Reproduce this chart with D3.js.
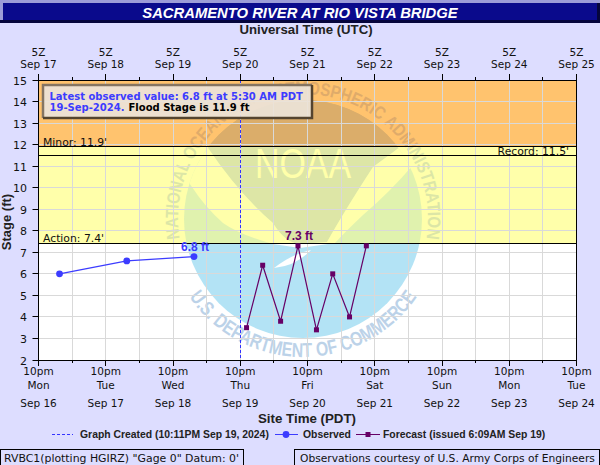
<!DOCTYPE html>
<html><head><meta charset="utf-8">
<script src="https://cdn.jsdelivr.net/npm/d3@7/dist/d3.min.js"></script>
<style>
html,body{margin:0;padding:0;background:#ddddff;overflow:hidden}
svg{display:block}
text{font-family:"DejaVu Sans",sans-serif}
</style></head><body><div id="c"></div>
<script>
const stageTicks = [2,3,4,5,6,7,8,9,10,11,12,13,14,15];
const tickTimes = ["2024-09-16T22:00","2024-09-17T22:00","2024-09-18T22:00","2024-09-19T22:00","2024-09-20T22:00","2024-09-21T22:00","2024-09-22T22:00","2024-09-23T22:00","2024-09-24T22:00"];
const topDates = ["Sep 17","Sep 18","Sep 19","Sep 20","Sep 21","Sep 22","Sep 23","Sep 24","Sep 25"];
const weekdays = ["Mon","Tue","Wed","Thu","Fri","Sat","Sun","Mon","Tue"];
const bottomDates = ["Sep 16","Sep 17","Sep 18","Sep 19","Sep 20","Sep 21","Sep 22","Sep 23","Sep 24"];
const obsTimes = ["2024-09-17T05:30","2024-09-18T05:30","2024-09-19T05:30"];
const obsValues = [6.0,6.6,6.8];
const fcstTimes = ["2024-09-20T00:15","2024-09-20T06:00","2024-09-20T12:24","2024-09-20T18:36","2024-09-21T01:12","2024-09-21T07:00","2024-09-21T13:00","2024-09-21T19:00"];
const fcstValues = [3.5,6.4,3.8,7.3,3.4,6.0,4.0,7.3];
const createdTime = "2024-09-19T22:11";
const thresholds = [{name:"Action: 7.4'",v:7.4},{name:"Record: 11.5'",v:11.5},{name:"Minor: 11.9'",v:11.9}];

const W=600,H=465,L=38.5,R=576.5,T=80,B=360;
const pd = s=>new Date(s+"Z");
const x = d3.scaleUtc().domain([pd(tickTimes[0]),pd(tickTimes[8])]).range([L,R]);
const y = d3.scaleLinear().domain([2,15]).range([B,T]);
const svg = d3.select("#c").append("svg").attr("width",W).attr("height",H);
const DAY=864e5;
const sy=v=>Math.floor(y(v))+.5;
const sx=t=>Math.floor(x(t))+.5;

// header
svg.append("rect").attr("width",W).attr("height",H).attr("fill","#ddddff");
svg.append("rect").attr("x",0).attr("y",0).attr("width",W).attr("height",3).attr("fill","#9c9cd8");
svg.append("rect").attr("x",0).attr("y",3).attr("width",3).attr("height",17).attr("fill","#9c9cd8");
svg.append("rect").attr("x",3).attr("y",3).attr("width",594).attr("height",17).attr("fill","#0a0a8c");
svg.append("rect").attr("x",0).attr("y",20).attr("width",W).attr("height",3).attr("fill","#05053c");
svg.append("rect").attr("x",597).attr("y",3).attr("width",3).attr("height",20).attr("fill","#05053c");
svg.append("text").attr("x",300).attr("y",17.5).attr("text-anchor","middle").attr("fill","#fff")
  .style("font-family","Liberation Sans").style("font-weight","bold").style("font-style","italic").style("font-size","14.8px")
  .text("SACRAMENTO RIVER AT RIO VISTA BRIDGE");
svg.append("text").attr("x",306).attr("y",34).attr("text-anchor","middle").attr("fill","#222")
  .style("font-family","Liberation Sans").style("font-weight","bold").style("font-size","13.2px").text("Universal Time (UTC)");

// bands
const bands=[[11.9,15,"#ffc36e"],[7.4,11.9,"#ffffaa"],[2,7.4,"#ffffff"]];
svg.selectAll(".band").data(bands).join("rect").attr("class","band")
  .attr("x",L).attr("width",R-L).attr("y",d=>y(d[1])).attr("height",d=>y(d[0])-y(d[1])).attr("fill",d=>d[2]);

// watermark, tinted band by band with hard-stop gradients
const defs=svg.append("defs");
const grad=(id,c)=>{
  const g=defs.append("linearGradient").attr("id",id).attr("gradientUnits","userSpaceOnUse").attr("x1",0).attr("x2",0).attr("y1",T).attr("y2",B);
  const a=(sy(11.9)-T)/(B-T), b=(sy(7.4)-T)/(B-T);
  [[0,c[0]],[a,c[0]],[a,c[1]],[b,c[1]],[b,c[2]],[1,c[2]]].forEach(s=>g.append("stop").attr("offset",s[0]).attr("stop-color",s[1]));
};
grad("gDisc",["#dbad6a","#e0f2ae","#b3e3f5"]);
grad("gDark",["#dbad6a","#dde6a6","#b3e3f5"]);
grad("gCut",["#ffc36e","#ffffaa","#ffffff"]);
grad("gTxt",["#dfab6a","#dce6a6","#bcd2e8"]);
defs.append("clipPath").attr("id","plot").append("rect").attr("x",L).attr("y",T).attr("width",R-L).attr("height",B-T);
const cx=303,cy=219,r=119;
defs.append("clipPath").attr("id","disc").append("circle").attr("cx",cx).attr("cy",cy).attr("r",r);
const lg=svg.append("g").attr("clip-path","url(#plot)");
const disc=lg.append("g").attr("clip-path","url(#disc)");
disc.append("rect").attr("x",cx-r).attr("y",cy-r).attr("width",2*r).attr("height",2*r).attr("fill","url(#gDisc)");
disc.append("path").attr("fill","url(#gDark)").attr("d","M190,90 L420,90 L412,140 L400,147 L373,167 Q345,210 327,242 L300,244 Q285,243 273,223 Q240,195 208,148 L198,138 Z");
disc.append("path").attr("fill","url(#gCut)").attr("d",
 "M198,138 L208,148 Q240,195 273,223 Q285,243 300,244 L327,242 Q345,210 373,167 L400,147 L412,140 L425,160 L413,165 Q390,192 363,215 Q345,232 335,243 L300,248 L273,244 Q240,235 223,223 Q205,207 192,187 L180,170 Z");
disc.append("path").attr("fill","url(#gCut)").attr("d","M274,268 Q296,266 311,250 Q292,254 274,268 Z");
const pt=(rad,deg)=>[cx+rad*Math.sin(deg*Math.PI/180),cy-rad*Math.cos(deg*Math.PI/180)];
const ra=125, a0=pt(ra,-104), a1=pt(ra,104);
defs.append("path").attr("id","ringTop").attr("d",`M${a0} A${ra} ${ra} 0 1 1 ${a1}`);
const rb=138, b0=pt(rb,-122), b1=pt(rb,122);
defs.append("path").attr("id","ringBot").attr("d",`M${b0} A${rb} ${rb} 0 0 0 ${b1}`);
lg.append("text").attr("fill","url(#gTxt)").style("font-family","Liberation Sans").style("font-weight","bold").style("font-size","18px")
  .append("textPath").attr("href","#ringTop").attr("startOffset","50%").attr("text-anchor","middle")
  .attr("textLength",432).attr("lengthAdjust","spacingAndGlyphs")
  .text("NATIONAL OCEANIC AND ATMOSPHERIC ADMINISTRATION");
lg.append("text").attr("fill","url(#gTxt)").style("font-family","Liberation Sans").style("font-weight","bold").style("font-size","20px")
  .append("textPath").attr("href","#ringBot").attr("startOffset","50%").attr("text-anchor","middle")
  .attr("textLength",268).attr("lengthAdjust","spacingAndGlyphs")
  .text("U.S. DEPARTMENT OF COMMERCE");
lg.append("text").attr("x",303).attr("y",178).attr("text-anchor","middle").attr("fill","url(#gCut)")
  .style("font-family","Liberation Sans").style("font-size","42px").attr("textLength",96).attr("lengthAdjust","spacingAndGlyphs").text("NOAA");

// grid
const grid=svg.append("g").attr("stroke","#d9d9d9").attr("stroke-width",1);
stageTicks.slice(1,-1).forEach(v=>grid.append("line").attr("x1",L).attr("x2",R).attr("y1",sy(v)).attr("y2",sy(v)));
const halfTicks=d3.range(1,16).map(i=>new Date(+x.domain()[0]+i*DAY/2));
halfTicks.forEach(t=>grid.append("line").attr("x1",sx(t)).attr("x2",sx(t)).attr("y1",T).attr("y2",B));

// thresholds
const thrLine=svg.append("g").attr("stroke","#000").attr("stroke-width",1.2);
thresholds.forEach(d=>thrLine.append("line").attr("x1",L).attr("x2",R).attr("y1",sy(d.v)).attr("y2",sy(d.v)));
const small=(s,xx,yy,a)=>svg.append("text").attr("x",xx).attr("y",yy).attr("text-anchor",a||"start").attr("fill","#111").style("font-size","10.8px").text(s);
small(thresholds[2].name,43,145.5);
small(thresholds[1].name,569,154.5,"end");
small(thresholds[0].name,43,242);

// created line
const cxx=sx(pd(createdTime));
svg.append("line").attr("x1",cxx).attr("x2",cxx).attr("y1",T).attr("y2",B)
  .attr("stroke","#3333ff").attr("stroke-width",1).attr("stroke-dasharray","3,2");

// frame
svg.append("rect").attr("x",L).attr("y",T+.5).attr("width",R-L).attr("height",B-T).attr("fill","none").attr("stroke","#000");

// axes
const majors=tickTimes.map(pd);
const mk=(g,ys,ye,vals)=>vals.forEach(t=>g.append("line").attr("x1",sx(t)).attr("x2",sx(t)).attr("y1",ys).attr("y2",ye).attr("stroke","#000"));
const ax=svg.append("g");
mk(ax,T-6,T,majors); mk(ax,B,B+6,majors);
const minors=halfTicks.filter((t,i)=>i%2==0);
mk(ax,T-3,T,minors); mk(ax,B,B+3,minors);
stageTicks.forEach(v=>{
  const yy=sy(v);
  ax.append("line").attr("x1",L-6).attr("x2",L).attr("y1",yy).attr("y2",yy).attr("stroke","#000");
  ax.append("text").attr("x",L-11.5).attr("y",yy+4).attr("text-anchor","end").attr("fill","#111").style("font-size","11px").text(v);
});
const lab=(s,xx,yy)=>ax.append("text").attr("x",xx).attr("y",yy).attr("text-anchor","middle").attr("fill","#111").style("font-size","10.5px").text(s);
majors.forEach((t,i)=>{
  const xx=x(t);
  lab("5Z",xx,56); lab(topDates[i],xx,68);
  lab("10pm",xx,375); lab(weekdays[i],xx,389); lab(bottomDates[i],xx,407);
});
svg.append("text").attr("transform","translate(11,222) rotate(-90)").attr("text-anchor","middle").attr("fill","#222")
  .style("font-family","Liberation Sans").style("font-weight","bold").style("font-size","13px").text("Stage (ft)");
svg.append("text").attr("x",307).attr("y",423).attr("text-anchor","middle").attr("fill","#222")
  .style("font-family","Liberation Sans").style("font-weight","bold").style("font-size","13.3px").text("Site Time (PDT)");

// series
const line=d3.line().x(d=>x(d.t)).y(d=>y(d.v));
const obs=obsTimes.map((t,i)=>({t:pd(t),v:obsValues[i]}));
const fc=fcstTimes.map((t,i)=>({t:pd(t),v:fcstValues[i]}));
svg.append("path").attr("d",line(obs)).attr("fill","none").attr("stroke","#3c3cff").attr("stroke-width",1.2);
svg.selectAll(".o").data(obs).join("circle").attr("cx",d=>x(d.t)).attr("cy",d=>y(d.v)).attr("r",3.4).attr("fill","#3c3cff");
svg.append("path").attr("d",line(fc)).attr("fill","none").attr("stroke","#660066").attr("stroke-width",1.2);
svg.selectAll(".f").data(fc).join("rect").attr("x",d=>x(d.t)-2.5).attr("y",d=>y(d.v)-2.5).attr("width",5).attr("height",5).attr("fill","#660066");
svg.append("text").attr("x",195).attr("y",250.5).attr("text-anchor","middle").attr("fill","#3c3cff").style("font-family","Liberation Sans").style("font-weight","bold").style("font-size","12px").text("6.8 ft");
svg.append("text").attr("x",299).attr("y",240).attr("text-anchor","middle").attr("fill","#660066").style("font-family","Liberation Sans").style("font-weight","bold").style("font-size","12px").text("7.3 ft");

// info box
svg.append("rect").attr("x",43).attr("y",85).attr("width",269).attr("height",33).attr("fill","#ebe3d8").attr("fill-opacity",.92);
svg.append("path").attr("d","M43,118 V85 H312").attr("fill","none").attr("stroke","#857563").attr("stroke-width",2.5);
svg.append("path").attr("d","M312,85 V118 H43").attr("fill","none").attr("stroke","#54442f").attr("stroke-width",2.5);
svg.append("text").attr("x",49.5).attr("y",100).style("font-weight","bold").style("font-size","10px").attr("fill","#3c3cff").text("Latest observed value: 6.8 ft at 5:30 AM PDT");
const info2=svg.append("text").attr("x",49.5).attr("y",111).style("font-weight","bold").style("font-size","10px");
info2.append("tspan").attr("fill","#3c3cff").text("19-Sep-2024.");
info2.append("tspan").attr("fill","#000").attr("dx",4).text("Flood Stage is 11.9 ft");

// legend
const legy=434.5;
svg.append("line").attr("x1",52).attr("x2",73).attr("y1",legy).attr("y2",legy).attr("stroke","#3333ff").attr("stroke-dasharray","3,2");
const lt=(s,xx)=>svg.append("text").attr("x",xx).attr("y",legy+3.5).attr("fill","#222").style("font-family","Liberation Sans").style("font-weight","bold").style("font-size","10.4px").text(s);
lt("Graph Created (10:11PM Sep 19, 2024)",80);
svg.append("line").attr("x1",275).attr("x2",298).attr("y1",legy).attr("y2",legy).attr("stroke","#3c3cff");
svg.append("circle").attr("cx",286).attr("cy",legy).attr("r",3.4).attr("fill","#3c3cff");
lt("Observed",303);
svg.append("line").attr("x1",356).attr("x2",380).attr("y1",legy).attr("y2",legy).attr("stroke","#660066");
svg.append("rect").attr("x",365.5).attr("y",legy-2.5).attr("width",5).attr("height",5).attr("fill","#660066");
lt("Forecast (issued 6:09AM Sep 19)",383);

// footer
svg.append("rect").attr("x",.5).attr("y",449.5).attr("width",243).attr("height",20).attr("fill","none").attr("stroke","#000");
svg.append("text").attr("x",4).attr("y",462).attr("fill","#111").style("font-size","10.9px").text('RVBC1(plotting HGIRZ) "Gage 0" Datum: 0\'');
svg.append("rect").attr("x",294.5).attr("y",449.5).attr("width",305).attr("height",20).attr("fill","none").attr("stroke","#000");
svg.append("text").attr("x",300).attr("y",462).attr("fill","#111").style("font-size","10.7px").text("Observations courtesy of U.S. Army Corps of Engineers");
</script></body></html>
